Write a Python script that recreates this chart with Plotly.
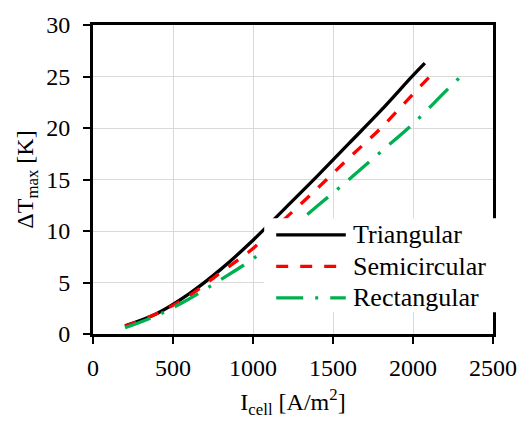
import plotly.graph_objects as go

# Maximum temperature rise vs. cell current density for three channel shapes
tri_i = [200, 400, 600, 800, 1000, 1200, 1400, 1600, 1800, 2000, 2074]
tri_dt = [0.8, 2.0, 3.9, 6.3, 9.1, 12.2, 15.3, 18.5, 21.7, 25.1, 26.3]

semi_i = [200, 400, 600, 800, 1000, 1200, 1400, 1600, 1800, 2000, 2105]
semi_dt = [0.75, 2.0, 3.7, 6.0, 8.3, 11.2, 14.1, 17.1, 20.0, 23.3, 25.0]

rect_i = [200, 400, 600, 800, 1000, 1200, 1400, 1600, 1800, 2000, 2200, 2298]
rect_dt = [0.6, 1.8, 3.4, 5.3, 7.3, 9.8, 12.4, 15.0, 17.7, 20.4, 23.5, 25.0]

x_ticks = [0, 500, 1000, 1500, 2000, 2500]
y_ticks = [0, 5, 10, 15, 20, 25, 30]

FONT = "Liberation Serif, Times New Roman, serif"

series = [
    ("Triangular", tri_i, tri_dt, dict(color="black", width=3.3)),
    ("Semicircular", semi_i, semi_dt, dict(color="#ff0000", width=3.3, dash="12px,12px")),
    ("Rectangular", rect_i, rect_dt, dict(color="#00b050", width=3.3, dash="27px,12px,3px,12px")),
]

fig = go.Figure()
for name, xs, ys, style in series:
    fig.add_trace(go.Scatter(x=xs, y=ys, mode="lines", name=name,
                             line=dict(shape="spline", **style),
                             showlegend=False))

axis_common = dict(
    showline=True, linecolor="black", linewidth=3, mirror=True,
    ticks="outside", ticklen=7, tickwidth=1.5, tickcolor="black",
    showgrid=True, gridcolor="#d9d9d9", gridwidth=1,
    zeroline=False, tickfont=dict(family=FONT, size=24, color="black"),
    title_font=dict(family=FONT, size=24, color="black"),
)

fig.update_xaxes(range=[0, 2500], tickvals=x_ticks,
                 title_text="I<sub>cell</sub> [A/m<sup>2</sup>]",
                 title_standoff=14, ticklabelstandoff=3, **axis_common)
fig.update_yaxes(range=[0, 30], tickvals=y_ticks,
                 title_text="\u0394T<sub>max</sub> [K]",
                 title_standoff=6, ticklabelstandoff=8, **axis_common)

fig.add_annotation(text="(a)", xref="paper", yref="paper", x=0.43, y=1.075,
                   xanchor="center", yanchor="bottom", showarrow=False,
                   font=dict(family=FONT, size=24, color="black"))

# Key box in the lower right, drawn over the curves and the frame
fig.add_shape(type="rect", xref="paper", yref="paper",
              x0=0.428, x1=1.015, y0=0.070, y1=0.375,
              fillcolor="white", line=dict(width=0), layer="above")
row_y = [0.321, 0.219, 0.117]
for (name, _, _, style), yy in zip(series, row_y):
    fig.add_shape(type="line", xref="paper", yref="paper",
                  x0=0.458, x1=0.632, y0=yy, y1=yy,
                  line=style, layer="above")
    fig.add_annotation(text=name, xref="paper", yref="paper",
                       x=0.645, y=yy, xanchor="left", yanchor="middle",
                       showarrow=False,
                       font=dict(family=FONT, size=26, color="black"))

fig.update_layout(
    width=529, height=425,
    margin=dict(l=93, r=34, t=19, b=91),
    paper_bgcolor="white", plot_bgcolor="white",
)

fig.write_html("out.html")
